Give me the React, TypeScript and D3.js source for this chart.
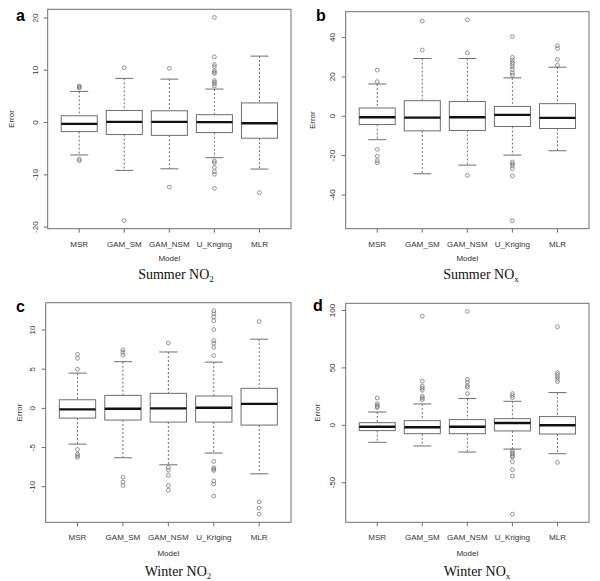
import React from "react";
import * as d3 from "d3";

const models = ["MSR", "GAM_SM", "GAM_NSM", "U_Kriging", "MLR"];

// per model: [lower whisker, Q1, median, Q3, upper whisker]
const summerNO2Stats = [
  [-6.2, -1.73, -0.26, 1.3, 5.95],
  [-9.15, -2.3, 0.13, 2.3, 8.45],
  [-8.85, -2.45, 0.13, 2.25, 8.3],
  [-6.72, -1.92, 0.08, 1.5, 6.4],
  [-8.9, -3.0, -0.13, 3.75, 12.7],
];
const summerNO2Outliers = [
  [7.0, 6.8, 6.6, -7.0, -7.3],
  [10.5, -18.75],
  [10.36, -12.35],
  [20.1, 12.55, 11.07, 10.7, 9.9, 9.6, 9.4, 8.0, 7.7, 7.4, 7.0, -7.36, -7.7, -8.6, -9.4, -9.9, -12.6],
  [-13.4],
];

const summerNOxStats = [
  [-11.9, -4.2, -0.5, 4.2, 16.4],
  [-29.2, -7.4, -0.7, 7.9, 29.3],
  [-24.8, -7.2, -0.5, 7.5, 29.3],
  [-19.7, -5.2, 0.7, 5.0, 19.5],
  [-17.5, -6.2, -0.8, 6.4, 24.9],
];
const summerNOxOutliers = [
  [23.4, 17.6, -16.8, -20.3, -22.5, -23.6],
  [48.3, 33.6],
  [49, 32.2, -30],
  [40.5, 29.9, 28.5, 27.3, 26.3, 25.1, 23.8, 22.0, 20.9, -23.2, -24.2, -25.3, -26.6, -30.3, -53],
  [35.8, 34.4, 28.8, 25.9],
];

const winterNO2Stats = [
  [-4.56, -1.24, -0.13, 1.1, 4.5],
  [-6.3, -1.49, -0.04, 1.66, 5.96],
  [-7.2, -1.75, 0.0, 1.92, 7.2],
  [-5.7, -1.75, 0.09, 1.58, 5.9],
  [-8.35, -2.13, 0.58, 2.56, 8.83],
];
const winterNO2Outliers = [
  [6.9, 6.4, 5.0, -5.24, -5.84, -6.05, -6.26],
  [7.46, 7.16, 6.82, -8.78, -9.4, -9.84],
  [8.35, -7.54, -7.88, -8.56, -9.84, -10.44],
  [12.45, 12.07, 11.7, 11.18, 10.06, 8.66, 8.3, 7.8, 6.74, -6.77, -7.58, -7.75, -7.92, -9.25, -9.67, -11.2],
  [11.09, -11.93, -12.74, -13.5],
];

const winterNOxStats = [
  [-14.8, -4.6, -1.2, 2.3, 11.6],
  [-18.0, -7.3, -1.7, 4.1, 18.6],
  [-23.3, -7.3, -1.2, 5.0, 23.3],
  [-20.7, -4.9, 2.0, 5.8, 20.9],
  [-24.7, -7.6, 0.0, 7.6, 28.5],
];
const winterNOxOutliers = [
  [23.8, 18.9, 17.5, 16.3, 15.4],
  [95.1, 38.4, 34.0, 32.3, 30.5, 25.3, 23.8, 22.4],
  [99.2, 39.9, 37.5, 34.6, 33.2, 27.6],
  [27.6, 25.9, 24.1, -21.8, -23.6, -25.0, -26.5, -27.6, -31.7, -38.7, -44.2, -77.4],
  [85.8, 46.0, 44.2, 42.2, 40.1, 38.1, -32.3],
];

const summerNO2Ticks = [-20, -10, 0, 10, 20];
const summerNOxTicks = [-40, -20, 0, 20, 40];
const winterNO2Ticks = [-10, -5, 0, 5, 10];
const winterNOxTicks = [-50, 0, 50, 100];

const panels = [
  {
    letter: "a", season: "Summer", sub: "2", stats: summerNO2Stats, outliers: summerNO2Outliers, ticks: summerNO2Ticks,
    L: 47.7, R: 291, T: 9.3, B: 228.7, lx: 16, ly: 21, ylabX: 13.5, tickX: 38.5, xlabY: 247, modelY: 261, titleY: 279, titleX: 176,
  },
  {
    letter: "b", season: "Summer", sub: "x", stats: summerNOxStats, outliers: summerNOxOutliers, ticks: summerNOxTicks,
    L: 345.7, R: 589, T: 11.7, B: 228.7, lx: 316, ly: 21, ylabX: 315.5, tickX: 335.5, xlabY: 247, modelY: 261, titleY: 279, titleX: 481,
  },
  {
    letter: "c", season: "Winter", sub: "2", stats: winterNO2Stats, outliers: winterNO2Outliers, ticks: winterNO2Ticks,
    L: 45.7, R: 291, T: 302.7, B: 522.3, lx: 16, ly: 312, ylabX: 21.5, tickX: 35.5, xlabY: 540, modelY: 556, titleY: 576, titleX: 178,
  },
  {
    letter: "d", season: "Winter", sub: "x", stats: winterNOxStats, outliers: winterNOxOutliers, ticks: winterNOxTicks,
    L: 345.7, R: 589, T: 303.3, B: 522.3, lx: 313, ly: 311, ylabX: 320.5, tickX: 335.5, xlabY: 540, modelY: 556, titleY: 576, titleX: 477,
  },
];

const SANS = "'Liberation Sans', Arial, sans-serif";
const SERIF = "'Liberation Serif', 'Times New Roman', serif";
const GRAY = "#6e6e6e";

function Panel({ p }: { p: any }) {
  const all: number[] = [];
  p.stats.forEach((s: number[]) => all.push(...s));
  p.outliers.forEach((o: number[]) => all.push(...o));
  const [mn, mx] = d3.extent(all) as [number, number];
  const pad = (mx - mn) * 0.04;
  const y = d3.scaleLinear().domain([mn - pad, mx + pad]).range([p.B, p.T]);
  const x = d3.scaleLinear().domain([0.3, 5.7]).range([p.L, p.R]);
  const unit = x(1) - x(0);
  const bw = 0.4 * unit;
  const cw = 0.2 * unit;
  const cy = (p.T + p.B) / 2;
  const cx = (p.L + p.R) / 2;
  return (
    <g>
      <rect x={p.L} y={p.T} width={p.R - p.L} height={p.B - p.T} fill="none" stroke={GRAY} strokeWidth={1} />
      {p.ticks.map((t: number) => (
        <g key={t}>
          <line x1={p.L - 4} x2={p.L} y1={y(t)} y2={y(t)} stroke={GRAY} />
          <text
            x={p.tickX} y={y(t)} transform={`rotate(-90 ${p.tickX} ${y(t)})`}
            textAnchor="middle" fontSize={8} fontFamily={SANS} fill="#333"
          >{t}</text>
        </g>
      ))}
      {models.map((m, i) => {
        const xc = x(i + 1);
        const [lo, q1, md, q3, hi] = p.stats[i];
        return (
          <g key={m}>
            <line x1={xc} x2={xc} y1={p.B} y2={p.B + 4} stroke={GRAY} />
            <text x={xc} y={p.xlabY} textAnchor="middle" fontSize={8} fontFamily={SANS} fill="#333">{m}</text>
            <line x1={xc} x2={xc} y1={y(hi)} y2={y(q3)} stroke={GRAY} strokeDasharray="2,2" />
            <line x1={xc} x2={xc} y1={y(q1)} y2={y(lo)} stroke={GRAY} strokeDasharray="2,2" />
            <line x1={xc - cw} x2={xc + cw} y1={y(hi)} y2={y(hi)} stroke={GRAY} />
            <line x1={xc - cw} x2={xc + cw} y1={y(lo)} y2={y(lo)} stroke={GRAY} />
            <rect x={xc - bw} y={y(q3)} width={2 * bw} height={y(q1) - y(q3)} fill="white" stroke={GRAY} />
            <line x1={xc - bw} x2={xc + bw} y1={y(md)} y2={y(md)} stroke="#111" strokeWidth={2.4} />
            {p.outliers[i].map((v: number, k: number) => (
              <circle key={k} cx={xc} cy={y(v)} r={1.9} fill="none" stroke="#777" strokeWidth={0.8} />
            ))}
          </g>
        );
      })}
      <text x={p.ylabX} y={cy} transform={`rotate(-90 ${p.ylabX} ${cy})`} textAnchor="middle" fontSize={8} fontFamily={SANS} fill="#333">Error</text>
      <text x={cx} y={p.modelY} textAnchor="middle" fontSize={8} fontFamily={SANS} fill="#333">Model</text>
      <text x={p.lx} y={p.ly} fontSize={16} fontWeight="bold" fontFamily={SANS} fill="#000">{p.letter}</text>
      <text x={p.titleX} y={p.titleY} textAnchor="middle" fontSize={14} fontFamily={SERIF} fill="#111">
        {p.season} NO
        <tspan fontSize={9} dy={3}>{p.sub}</tspan>
      </text>
    </g>
  );
}

export default function App() {
  return (
    <svg width={600} height={581} style={{ position: "absolute", left: 0, top: 0, background: "white" }}>
      <rect width={600} height={581} fill="white" />
      {panels.map((p) => <Panel key={p.letter} p={p} />)}
    </svg>
  );
}
